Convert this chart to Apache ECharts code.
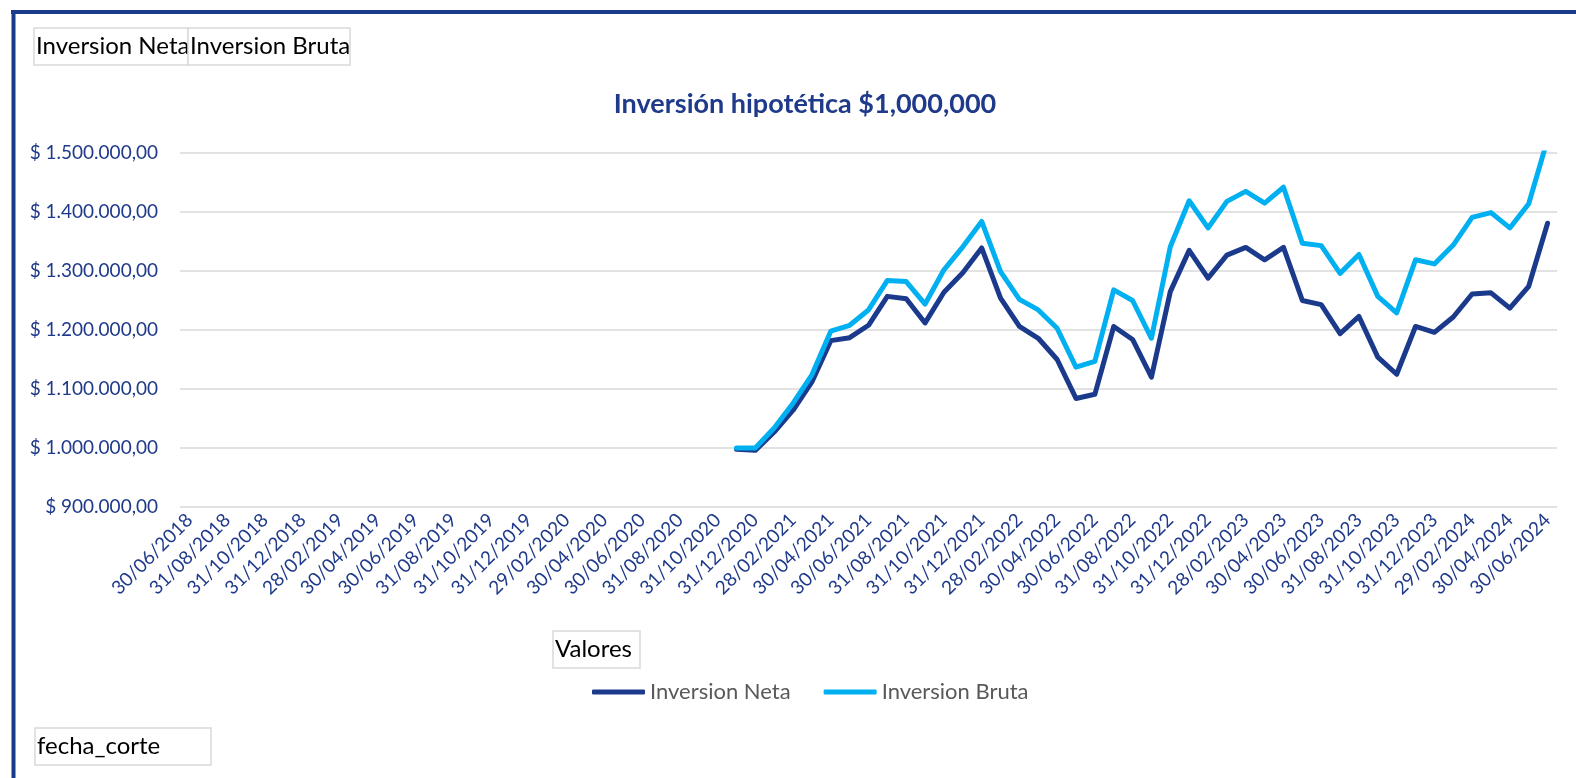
<!DOCTYPE html>
<html>
<head>
<meta charset="utf-8">
<script src="https://cdn.jsdelivr.net/npm/echarts@6/dist/echarts.min.js"></script>
<style>
html,body{margin:0;padding:0;background:#fff;}
#chart{width:1576px;height:778px;}
</style>
</head>
<body>
<div id="chart"></div>
<script>
var categories = [
  '30/06/2018','31/07/2018','31/08/2018','30/09/2018','31/10/2018','30/11/2018','31/12/2018',
  '31/01/2019','28/02/2019','31/03/2019','30/04/2019','31/05/2019','30/06/2019','31/07/2019','31/08/2019','30/09/2019','31/10/2019','30/11/2019','31/12/2019',
  '31/01/2020','29/02/2020','31/03/2020','30/04/2020','31/05/2020','30/06/2020','31/07/2020','31/08/2020','30/09/2020','31/10/2020','30/11/2020','31/12/2020',
  '31/01/2021','28/02/2021','31/03/2021','30/04/2021','31/05/2021','30/06/2021','31/07/2021','31/08/2021','30/09/2021','31/10/2021','30/11/2021','31/12/2021',
  '31/01/2022','28/02/2022','31/03/2022','30/04/2022','31/05/2022','30/06/2022','31/07/2022','31/08/2022','30/09/2022','31/10/2022','30/11/2022','31/12/2022',
  '31/01/2023','28/02/2023','31/03/2023','30/04/2023','31/05/2023','30/06/2023','31/07/2023','31/08/2023','30/09/2023','31/10/2023','30/11/2023','31/12/2023',
  '31/01/2024','29/02/2024','31/03/2024','30/04/2024','31/05/2024','30/06/2024'
];

// values from 30/11/2020 onward (earlier months have no data)
var inversionNeta = [
  998000, 996000, 1027000, 1064000, 1112000, 1182000, 1187000, 1208000, 1257000, 1253000,
  1212000, 1264000, 1297000, 1339000, 1254000, 1206000, 1186000, 1150000, 1084000, 1091000,
  1206000, 1184000, 1120000, 1265000, 1335000, 1288000, 1327000, 1340000, 1319000, 1340000,
  1250000, 1243000, 1194000, 1223000, 1154000, 1125000, 1206000, 1196000, 1222000, 1261000,
  1263000, 1237000, 1274000, 1381000
];
var inversionBruta = [
  1000000, 1000000, 1034000, 1076000, 1124000, 1198000, 1208000, 1234000, 1284000, 1282000,
  1244000, 1302000, 1341000, 1384000, 1299000, 1252000, 1234000, 1203000, 1137000, 1147000,
  1268000, 1250000, 1186000, 1341000, 1419000, 1373000, 1418000, 1435000, 1415000, 1442000,
  1347000, 1343000, 1296000, 1328000, 1257000, 1229000, 1319000, 1312000, 1344000, 1391000,
  1399000, 1373000, 1414000, 1523000
];
var yTicks = { min: 900000, max: 1500000, interval: 100000 };
var titleText = 'Inversión hipotética $1,000,000';
var seriesNames = ['Inversion Neta', 'Inversion Bruta'];

function pad(arr) {
  var out = [];
  var lead = categories.length - arr.length;
  for (var i = 0; i < lead; i++) out.push(null);
  return out.concat(arr);
}
function fmt(v) {
  var s = Math.round(v).toString().replace(/\B(?=(\d{3})+(?!\d))/g, '.');
  return '$ ' + s + ',00';
}

var NAVY = '#1B3A8C';
var LIGHT = '#00B0F0';
var FONT = 'Lato';

var chart = echarts.init(document.getElementById('chart'), null, { renderer: 'canvas' });

function box(x, y, w, h, text) {
  return {
    type: 'group',
    children: [
      { type: 'rect', shape: { x: x, y: y, width: w, height: h },
        style: { fill: '#fff', stroke: '#D9D9D9', lineWidth: 1.5 } },
      { type: 'text', x: x + 2, y: y + h / 2,
        style: { text: text, fill: '#000', font: '24px ' + FONT, textVerticalAlign: 'middle' } }
    ]
  };
}

chart.setOption({
  animation: false,
  backgroundColor: '#fff',
  title: {
    text: titleText,
    left: 800, textAlign: 'center',
    top: 86,
    textStyle: { color: '#1F3A8A', fontFamily: FONT, fontWeight: 'bold', fontSize: 27 }
  },
  legend: {
    data: seriesNames,
    left: 587, top: 676,
    itemWidth: 53, itemHeight: 5, itemGap: 33,
    icon: 'roundRect',
    textStyle: { color: '#595959', fontFamily: FONT, fontSize: 22 }
  },
  grid: { left: 180, right: 19, top: 153, bottom: 271, containLabel: false },
  xAxis: {
    type: 'category',
    data: categories,
    boundaryGap: true,
    axisLine: { show: false },
    axisTick: { show: false },
    axisLabel: {
      interval: 1, rotate: 45, margin: 10,
      color: '#1F3A8A', fontFamily: FONT, fontSize: 19
    },
    splitLine: { show: false }
  },
  yAxis: {
    type: 'value',
    min: yTicks.min, max: yTicks.max, interval: yTicks.interval,
    axisLine: { show: false },
    axisTick: { show: false },
    axisLabel: { formatter: fmt, color: '#1F3A8A', fontFamily: FONT, fontSize: 19, margin: 22 },
    splitLine: { lineStyle: { color: '#D9D9D9', width: 1.5 } }
  },
  series: [
    { name: seriesNames[0], type: 'line', data: pad(inversionNeta), showSymbol: false, symbol: 'none',
      connectNulls: false, clip: true,
      lineStyle: { color: NAVY, width: 5, cap: 'round', join: 'round' }, itemStyle: { color: NAVY } },
    { name: seriesNames[1], type: 'line', data: pad(inversionBruta), showSymbol: false, symbol: 'none',
      connectNulls: false, clip: true,
      lineStyle: { color: LIGHT, width: 5, cap: 'round', join: 'round' }, itemStyle: { color: LIGHT } }
  ],
  graphic: [
    { type: 'line', shape: { x1: 11, y1: 12, x2: 1576, y2: 12 }, style: { stroke: '#1A3A8C', lineWidth: 4 } },
    { type: 'line', shape: { x1: 13.5, y1: 10, x2: 13.5, y2: 778 }, style: { stroke: '#1A3A8C', lineWidth: 4 } },
    box(34, 28, 154, 37, 'Inversion Neta'),
    box(188, 28, 162, 37, 'Inversion Bruta'),
    box(553, 631, 87, 37, 'Valores'),
    box(35, 728, 176, 37, 'fecha_corte')
  ]
});
</script>
</body>
</html>
